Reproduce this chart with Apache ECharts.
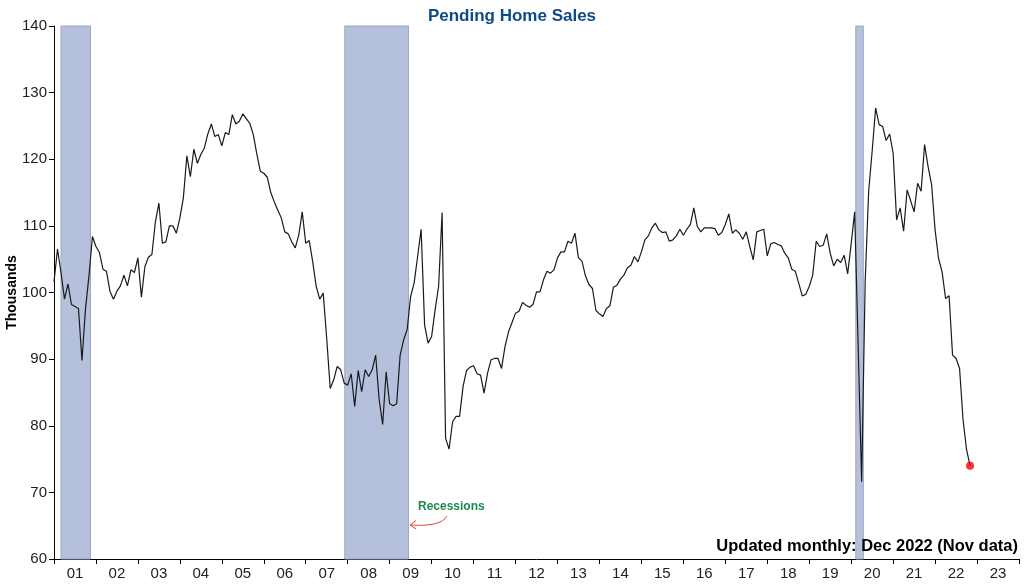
<!DOCTYPE html>
<html>
<head>
<meta charset="utf-8">
<script src="https://cdn.jsdelivr.net/npm/echarts@6/dist/echarts.min.js"></script>
<style>
html,body{margin:0;padding:0;background:#fff;}
#chart{width:1024px;height:585px;}
</style>
</head>
<body>
<div id="chart"></div>
<script>
// Monthly pending home sales (thousands), Jan 2001 .. Nov 2022
const startYear = 2001;
const sales2001_2004 = [
  101.6,106.5,103.0,99.0,101.3,98.2,97.9,97.6,89.8,97.5,102.5,108.4,
  106.9,106.0,103.5,103.2,100.2,99.0,100.2,101.0,102.6,101.0,103.4,103.0,
  105.2,99.3,103.9,105.3,105.7,110.6,113.4,107.4,107.6,110.0,110.0,108.9,
  111.2,114.2,120.5,117.4,121.5,119.4,120.7,121.7,123.8,125.3,123.4,123.7
];
const sales2005_2008 = [
  122.0,124.0,123.7,126.7,125.3,125.7,126.8,126.1,125.4,123.7,120.8,118.2,
  117.9,117.3,115.0,113.6,112.4,111.2,109.1,108.8,107.6,106.7,108.6,112.1,
  107.4,107.8,104.6,100.9,99.0,99.9,93.1,85.6,86.9,88.9,88.4,86.4,
  86.1,87.8,82.9,88.3,85.1,88.4,87.4,88.4,90.6,83.9,80.2,88.1
];
const sales2009_2012 = [
  83.3,83.0,83.3,90.6,92.9,94.4,99.4,101.4,105.4,109.5,95.1,92.4,
  93.4,97.4,100.9,112.0,78.1,76.5,80.6,81.4,81.4,85.9,88.3,88.8,
  89.0,87.8,87.6,84.9,87.9,89.9,90.1,90.1,88.6,91.9,94.1,95.5,
  96.9,97.2,98.5,98.1,97.8,98.2,100.1,100.1,101.9,103.2,102.9,103.4
];
const sales2013_2016 = [
  105.2,106.1,106.1,107.7,107.4,108.9,105.2,104.7,102.5,101.2,100.6,97.3,
  96.8,96.4,97.6,98.0,100.8,101.1,102.0,102.6,103.7,104.1,105.4,104.6,
  106.1,107.9,108.5,109.7,110.4,109.4,109.0,109.1,107.7,107.9,108.5,109.5,
  108.6,109.5,110.2,112.7,109.9,109.1,109.7,109.7,109.7,109.6,108.6,109.0
];
const sales2017_2020 = [
  110.2,111.8,108.9,109.4,108.9,108.0,109.1,106.9,104.9,109.1,109.3,109.5,
  105.5,107.3,107.5,107.2,107.0,105.9,105.2,103.5,103.2,101.4,99.5,99.7,
  100.9,102.6,107.7,106.9,107.1,108.8,105.9,104.0,105.0,104.5,105.6,102.8,
  107.3,112.1,91.9,71.6,101.6,115.2,121.2,127.7,125.2,124.9,122.8,123.8
];
const sales2021_2022 = [
  120.9,110.9,112.7,109.2,115.4,113.8,112.1,116.4,115.2,122.2,118.9,116.2,
  109.4,105.1,103.1,99.1,99.5,90.6,90.1,88.6,80.9,76.4,74.0
];
const sales = [].concat(sales2001_2004, sales2005_2008, sales2009_2012,
                        sales2013_2016, sales2017_2020, sales2021_2022);
const yearLabels = ['01','02','03','04','05','06','07','08','09','10','11','12',
                    '13','14','15','16','17','18','19','20','21','22','23'];
const recessions = [[2001.167, 2001.87], [2007.93, 2009.45], [2020.11, 2020.29]];
const yTicks = {min: 60, max: 140, interval: 10};

const points = sales.map((v, i) => [startYear + i / 12, v]);
const lastPoint = points[points.length - 1];

const chart = echarts.init(document.getElementById('chart'), null, {renderer: 'canvas'});
const font = '"Liberation Sans", Arial, sans-serif';
chart.setOption({
  animation: false,
  backgroundColor: '#fff',
  title: {
    text: 'Pending Home Sales',
    left: 'center', top: 3,
    textStyle: {fontFamily: font, fontSize: 17, fontWeight: 'bold', color: '#0d4a86'}
  },
  grid: {left: 54, right: 5, top: 26, bottom: 26, containLabel: false, outerBoundsMode: 'none'},
  xAxis: [
    {
      type: 'value', min: startYear, max: startYear + yearLabels.length, interval: 1,
      axisLine: {lineStyle: {color: '#000', width: 1}},
      axisTick: {length: 5, lineStyle: {color: '#000'}},
      axisLabel: {show: false},
      splitLine: {show: false}
    },
    {
      type: 'category', data: yearLabels, position: 'bottom', boundaryGap: true,
      axisLine: {show: false}, axisTick: {show: false},
      axisLabel: {fontFamily: font, fontSize: 15, color: '#222', margin: 7},
      splitLine: {show: false}
    }
  ],
  yAxis: {
    type: 'value', min: yTicks.min, max: yTicks.max, interval: yTicks.interval,
    name: 'Thousands', nameLocation: 'middle', nameGap: 35, nameMoveOverlap: false,
    nameTextStyle: {fontFamily: font, fontSize: 14, fontWeight: 'bold', color: '#000'},
    axisLine: {show: true, lineStyle: {color: '#000', width: 1}},
    axisTick: {show: true, length: 5, lineStyle: {color: '#000'}},
    axisLabel: {fontFamily: font, fontSize: 15, color: '#222', margin: 7},
    splitLine: {show: false}
  },
  series: [
    {
      type: 'line', xAxisIndex: 0, data: points, showSymbol: false, symbol: 'none',
      lineStyle: {color: '#1a1a1a', width: 1.2},
      z: 3,
      markArea: {
        silent: true,
        itemStyle: {color: '#b5c1dc', borderColor: '#9ea8bd', borderWidth: 1},
        data: recessions.map(r => [{xAxis: r[0]}, {xAxis: r[1]}])
      }
    },
    {
      type: 'scatter', xAxisIndex: 0, data: [lastPoint], symbolSize: 8,
      itemStyle: {color: '#ff0000'}, z: 4
    }
  ],
  graphic: [
    {
      type: 'text', left: 418, top: 501, z: 10,
      style: {text: 'Recessions', fill: '#1e8a4e', font: 'bold 12px "Liberation Sans", Arial, sans-serif'}
    },
    {
      type: 'bezierCurve', z: 10,
      shape: {x1: 447, y1: 516, x2: 410, y2: 525, cpx1: 441, cpy1: 527},
      style: {stroke: '#e0443c', lineWidth: 1, fill: null}
    },
    {
      type: 'polyline', z: 10,
      shape: {points: [[416, 520.5], [410, 525], [416, 529]]},
      style: {stroke: '#e0443c', lineWidth: 1, fill: null}
    },
    {
      type: 'text', right: 6, top: 538, z: 10,
      style: {text: 'Updated monthly: Dec 2022 (Nov data)', fill: '#000', font: 'bold 16.5px "Liberation Sans", Arial, sans-serif'}
    }
  ]
});
</script>
</body>
</html>
